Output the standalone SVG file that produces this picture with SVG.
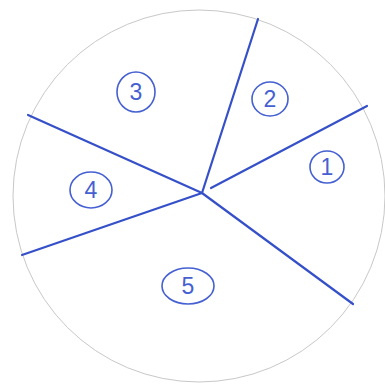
<svg xmlns="http://www.w3.org/2000/svg" width="385" height="385" viewBox="0 0 385 385">
<style>
.cut{stroke:#3550c8;stroke-width:2.2;stroke-linecap:round;fill:none}
.ring{stroke:#4560d2;stroke-width:1.6;fill:none}
.num{font-family:"Liberation Sans",Arial,sans-serif;font-size:23px;fill:#4560d2;text-anchor:middle;dominant-baseline:central}
</style>
<rect width="385" height="385" fill="#fff"/>
<circle cx="199" cy="196" r="186" fill="none" stroke="#c8c8c8" stroke-width="1"/>
<g id="connectors">
<line class="cut" x1="202" y1="193" x2="258" y2="19"/>
<line class="cut" x1="211" y1="188" x2="367" y2="106"/>
<line class="cut" x1="202" y1="193" x2="353" y2="304"/>
<line class="cut" x1="202" y1="193" x2="22" y2="255"/>
<line class="cut" x1="202" y1="193" x2="28" y2="115"/>
</g>
<g id="n1"><ellipse class="ring" cx="327" cy="167" rx="17" ry="16"/><text class="num" x="327" y="167">1</text></g>
<g id="n2"><ellipse class="ring" cx="270" cy="99" rx="18" ry="17"/><text class="num" x="270" y="99">2</text></g>
<g id="n3"><ellipse class="ring" cx="136" cy="92" rx="19" ry="20"/><text class="num" x="136" y="92">3</text></g>
<g id="n4"><ellipse class="ring" cx="91" cy="190" rx="21" ry="18"/><text class="num" x="91" y="190">4</text></g>
<g id="n5"><ellipse class="ring" cx="188" cy="286" rx="26" ry="18"/><text class="num" x="188" y="286">5</text></g>
</svg>
